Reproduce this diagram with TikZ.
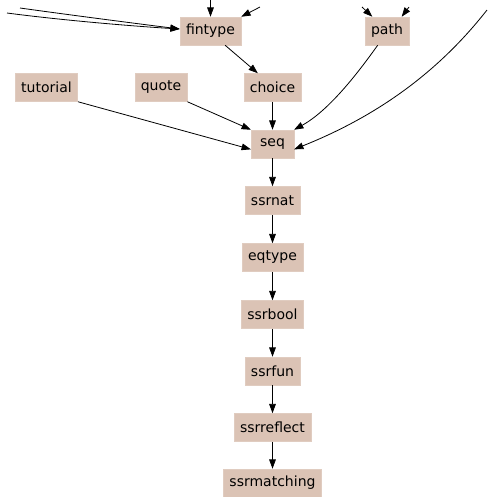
\documentclass[tikz,border=0pt]{standalone}
\usepackage{fontspec}
\setmainfont{DejaVu Sans}
\usetikzlibrary{arrows.meta}

\begin{document}
\begin{tikzpicture}[x=0.75pt,y=-0.75pt]
	\tikzset{modbox/.style={fill=modfill,draw=modfill!85!white,inner xsep=4.5pt,
			minimum width=32pt,minimum height=21pt,font=\fontsize{10.5}{12}\selectfont,
			text=black},
		dep/.style={-{Triangle[length=7pt,width=5pt]},black,line width=0.6pt}}
	\definecolor{modfill}{RGB}{219,195,181}
	\useasboundingbox (0,0) rectangle (487,497);
	% top row
	\node[modbox] (fintype) at (210.5,31) {fintype};
	\node[modbox] (path) at (387,31) {path};
	% second row
	\node[modbox] (tutorial) at (46.5,87.5) {tutorial};
	\node[modbox] (quote) at (161,87.5) {quote};
	\node[modbox] (choice) at (272.5,87.5) {choice};
	% main column
	\node[modbox] (seq) at (272.5,144) {seq};
	\node[modbox] (ssrnat) at (272.5,200.5) {ssrnat};
	\node[modbox] (eqtype) at (272.5,257.5) {eqtype};
	\node[modbox] (ssrbool) at (272.5,314.5) {ssrbool};
	\node[modbox] (ssrfun) at (272.5,371) {ssrfun};
	\node[modbox] (ssrreflect) at (272.5,427.5) {ssrreflect};
	\node[modbox] (ssrmatching) at (272.5,483) {ssrmatching};
	% free ends of edges cut off by the frame
	\coordinate (L1) at (7,13);
	\coordinate (L2) at (20,8);
	\coordinate (T1) at (210.5,0);
	\coordinate (T2) at (260,7);
	\coordinate (P1) at (362,7);
	\coordinate (P2) at (409,7);
	\coordinate (R1) at (487,10);
	% edges
	\draw[dep] (L1) .. controls (60,20) and (130,26) .. ([yshift=1.5pt]fintype.west);
	\draw[dep] (L2) .. controls (70,15) and (140,24) .. ([yshift=1.5pt]fintype.west);
	\draw[dep] (T1) -- (fintype.north);
	\draw[dep] (T2) -- (fintype.north east);
	\draw[dep] (P1) -- ([xshift=-11pt]path.north);
	\draw[dep] (P2) -- ([xshift=11pt]path.north);
	\draw[dep] ([xshift=11pt]fintype.south) -- ([xshift=-11pt]choice.north);
	\draw[dep] (choice) -- (seq);
	\draw[dep] (tutorial.south east) -- ([yshift=-4pt]seq.west);
	\draw[dep] (quote.south east) -- (seq.north west);
	\draw[dep] ([xshift=-7pt]path.south) .. controls (360,70) and (330,110) .. (seq.north east);
	\draw[dep] (R1) .. controls (440,70) and (380,115) .. ([yshift=-4pt]seq.east);
	\foreach \a/\b in {seq/ssrnat,ssrnat/eqtype,eqtype/ssrbool,ssrbool/ssrfun,
		ssrfun/ssrreflect,ssrreflect/ssrmatching}
	\draw[dep] (\a) -- (\b);
\end{tikzpicture}
\end{document}
